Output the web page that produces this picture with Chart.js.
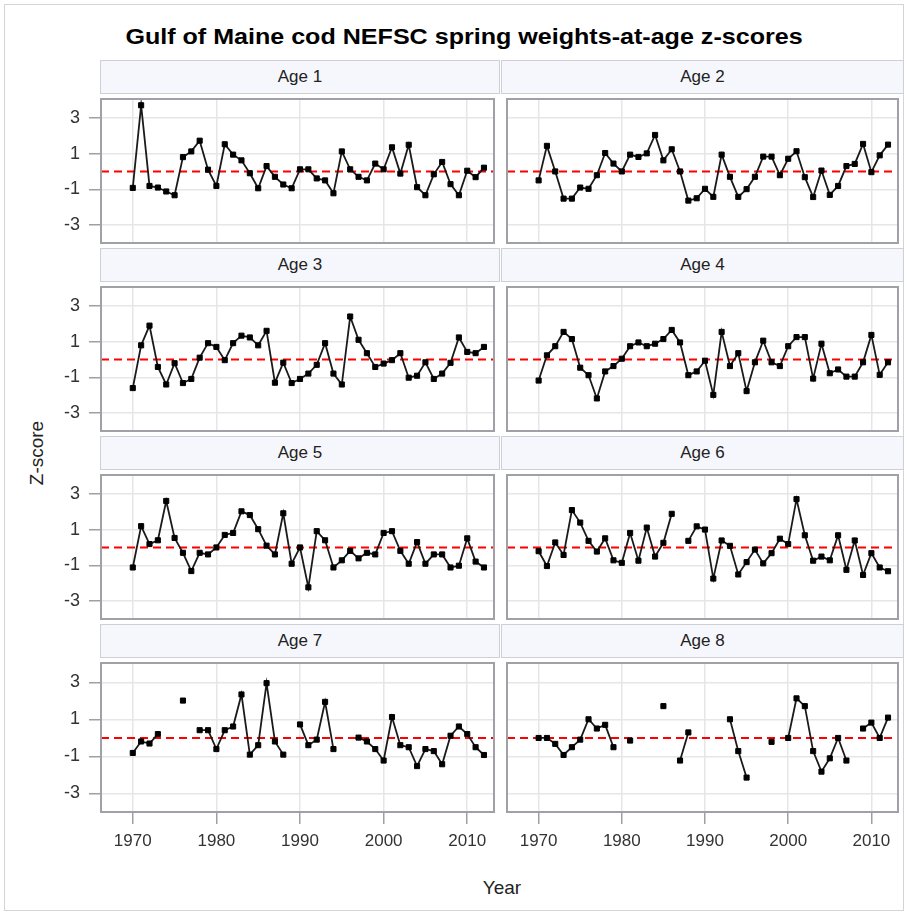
<!DOCTYPE html>
<html>
<head>
<meta charset="utf-8">
<title>Gulf of Maine cod NEFSC spring weights-at-age z-scores</title>
<script src="https://cdn.jsdelivr.net/npm/chart.js@4"></script>
<style>
  body { margin: 0; background: #fff; font-family: "Liberation Sans", Arial, sans-serif; }
  #wrap { position: relative; width: 907px; height: 915px; overflow: hidden; }
  #frame { position: absolute; left: 4px; top: 4px; width: 900px; height: 907px; border: 1px solid #d4d4d4; box-sizing: border-box; }
  #title { position: absolute; left: 464px; top: 24px; transform: translateX(-50%) scaleX(1.14); white-space: nowrap;
           font-weight: bold; font-size: 22px; color: #000; }
  .hdr { position: absolute; height: 34px; background: #f5f7fd; border: 1px solid #cfd0d4; box-sizing: border-box;
         font-size: 17px; color: #222; text-align: center; line-height: 32px; }
  canvas { position: absolute; }
  #xtitle { position: absolute; left: 101px; width: 802px; top: 877px; text-align: center; font-size: 19px; color: #222; }
  #ytitle { position: absolute; left: 37px; top: 453px; transform: translate(-50%, -50%) rotate(-90deg); font-size: 19px; color: #222; white-space: nowrap; }
</style>
</head>
<body>
<div id="wrap">
  <div id="frame"></div>
  <div id="title">Gulf of Maine cod NEFSC spring weights-at-age z-scores</div>
  <div id="xtitle">Year</div>
  <div id="ytitle">Z-score</div>
</div>
<script>
// ---- data -------------------------------------------------------
const years = [];
for (let y = 1970; y <= 2012; y++) years.push(y);

const panelTitles = ['Age 1', 'Age 2', 'Age 3', 'Age 4', 'Age 5', 'Age 6', 'Age 7', 'Age 8'];

const age1 = [-0.92, 3.7, -0.81, -0.9, -1.12, -1.33, 0.8, 1.12, 1.72, 0.1,
              -0.81, 1.52, 0.94, 0.62, -0.1, -0.94, 0.3, -0.3, -0.73, -0.94,
              0.12, 0.12, -0.39, -0.5, -1.22, 1.12, 0.12, -0.3, -0.5, 0.44,
              0.12, 1.35, -0.12, 1.49, -0.88, -1.33, -0.16, 0.53, -0.71, -1.33,
              0.04, -0.32, 0.21];
const age2 = [-0.5, 1.43, 0, -1.52, -1.52, -0.9, -0.97, -0.21, 1.03, 0.44,
              0, 0.94, 0.81, 1.01, 2.04, 0.62, 1.24, 0, -1.63, -1.5,
              -0.97, -1.42, 0.94, -0.3, -1.42, -0.99, -0.3, 0.83, 0.83, -0.21,
              0.71, 1.13, -0.32, -1.43, 0.05, -1.31, -0.81, 0.3, 0.42, 1.54,
              -0.04, 0.9, 1.5];
const age3 = [-1.6, 0.79, 1.89, -0.42, -1.4, -0.21, -1.32, -1.09, 0.1, 0.91,
              0.7, -0.04, 0.91, 1.33, 1.23, 0.79, 1.6, -1.3, -0.18, -1.32,
              -1.09, -0.79, -0.3, 0.91, -0.79, -1.4, 2.4, 1.1, 0.35, -0.42,
              -0.23, -0.04, 0.35, -1.02, -0.91, -0.16, -1.09, -0.79, -0.19, 1.23,
              0.42, 0.35, 0.7];
const age4 = [-1.18, 0.23, 0.74, 1.54, 1.14, -0.46, -0.88, -2.18, -0.67, -0.37,
              0.04, 0.74, 0.95, 0.74, 0.88, 1.14, 1.65, 0.95, -0.88, -0.67,
              -0.07, -1.98, 1.54, -0.37, 0.35, -1.77, -0.16, 1.05, -0.16, -0.37,
              0.74, 1.25, 1.25, -1.07, 0.88, -0.77, -0.56, -0.96, -0.96, -0.16,
              1.37, -0.86, -0.16];
const age5 = [-1.12, 1.19, 0.19, 0.4, 2.6, 0.53, -0.3, -1.32, -0.3, -0.39,
              0, 0.7, 0.81, 2.02, 1.81, 1.02, 0.1, -0.39, 1.91, -0.91,
              0, -2.23, 0.91, 0.4, -1.12, -0.72, -0.19, -0.61, -0.3, -0.39,
              0.81, 0.91, -0.19, -0.91, 0.3, -0.91, -0.39, -0.39, -1.12, -1.02,
              0.51, -0.79, -1.12];
const age6 = [-0.21, -1.04, 0.28, -0.42, 2.09, 1.39, 0.37, -0.23, 0.51, -0.72,
              -0.86, 0.81, -0.74, 1.11, -0.51, 0.26, 1.88, null, 0.37, 1.18,
              1.0, -1.74, 0.39, 0.09, -1.51, -0.82, -0.12, -0.89, -0.32, 0.49,
              0.19, 2.7, 0.68, -0.74, -0.51, -0.72, 0.68, -1.25, 0.39, -1.54,
              -0.32, -1.12, -1.33];
const age7 = [-0.81, -0.19, -0.3, 0.21, null, null, 2.02, null, 0.42, 0.42,
              -0.6, 0.42, 0.62, 2.35, -0.9, -0.39, 2.96, -0.19, -0.9, null,
              0.73, -0.39, -0.09, 1.95, -0.6, null, null, 0.02, -0.19, -0.6,
              -1.22, 1.13, -0.39, -0.5, -1.52, -0.6, -0.71, -1.42, 0.12, 0.62,
              0.21, -0.5, -0.92];
const age8 = [0, 0, -0.32, -0.92, -0.5, -0.09, 1.01, 0.51, 0.71, -0.5,
              null, -0.14, null, null, null, 1.72, null, -1.22, 0.3, null,
              null, null, null, 1.01, -0.71, -2.14, null, null, -0.21, null,
              0, 2.14, 1.72, -0.71, -1.82, -1.1, 0, -1.22, null, 0.51,
              0.83, 0, 1.1];

const series = [age1, age2, age3, age4, age5, age6, age7, age8];

const xTicks = [1970, 1980, 1990, 2000, 2010];
const yTicks = [-3, -1, 1, 3];
const refValue = 0;

// ---- layout -----------------------------------------------------
const X_MIN = 1966.2, X_MAX = 2013.2;
const Y_MIN = -4, Y_MAX = 4.05;
const COL_LEFT = [101, 502];
const COL_RIGHT = [499, 903];
const ROW_TOP = 60, ROW_PITCH = 188, HDR_H = 34, PLOT_H = 154;
const YAX_W = 81, XAX_H = 44;

const FONT = '"Liberation Sans", Arial, sans-serif';

const framePlugin = {
    id: 'frame',
    afterDraw(chart) {
        const { ctx, chartArea: a } = chart;
        ctx.save();
        ctx.strokeStyle = '#a0a1a6';
        ctx.lineWidth = 2;
        ctx.strokeRect(a.left, a.top, a.right - a.left, a.bottom - a.top);
        ctx.restore();
    }
};

const wrap = document.getElementById('wrap');

series.forEach((vals, i) => {
    const col = i % 2;
    const row = Math.floor(i / 2);
    const isLeft = col === 0;
    const isBottom = row === 3;

    // panel header strip
    const hdr = document.createElement('div');
    hdr.className = 'hdr';
    hdr.style.left = (COL_LEFT[col] - 1) + 'px';
    hdr.style.width = (COL_RIGHT[col] - COL_LEFT[col] + 2) + 'px';
    hdr.style.top = (ROW_TOP + row * ROW_PITCH) + 'px';
    hdr.textContent = panelTitles[i];
    wrap.appendChild(hdr);

    const plotTop = ROW_TOP + row * ROW_PITCH + HDR_H;
    const cv = document.createElement('canvas');
    const left = isLeft ? COL_LEFT[col] - YAX_W : COL_LEFT[col];
    const w = COL_RIGHT[col] - left;
    const h = PLOT_H + (isBottom ? XAX_H : 0);
    cv.width = w; cv.height = h;
    cv.style.left = left + 'px';
    cv.style.top = plotTop + 'px';
    wrap.appendChild(cv);

    new Chart(cv, {
        type: 'line',
        data: {
            datasets: [
                {
                    data: years.map((yr, k) => ({ x: yr, y: vals[k] })),
                    borderColor: '#1a1a1a',
                    borderWidth: 1.8,
                    backgroundColor: '#000',
                    pointStyle: 'rect',
                    pointRadius: 3.6,
                    pointBorderWidth: 1,
                    pointBorderColor: '#000',
                    pointBackgroundColor: '#000',
                    spanGaps: false,
                    tension: 0,
                    order: 1
                },
                {
                    data: [{ x: X_MIN, y: refValue }, { x: X_MAX, y: refValue }],
                    borderColor: '#ff0000',
                    borderWidth: 2,
                    borderDash: [8, 5],
                    pointRadius: 0,
                    order: 2
                }
            ]
        },
        options: {
            responsive: false,
            animation: false,
            layout: { padding: 0 },
            plugins: { legend: { display: false }, tooltip: { enabled: false }, title: { display: false } },
            scales: {
                x: {
                    type: 'linear',
                    min: X_MIN, max: X_MAX,
                    afterBuildTicks: s => { s.ticks = xTicks.map(v => ({ value: v })); },
                    afterFit: s => { s.height = isBottom ? XAX_H : 0; s.paddingLeft = 0; s.paddingRight = 0; },
                    border: { display: false },
                    grid: { color: '#e6e6e6', lineWidth: 1.5, tickColor: '#a0a0a0', tickLength: 12, drawTicks: isBottom },
                    ticks: {
                        display: isBottom,
                        autoSkip: false,
                        maxRotation: 0,
                        padding: 7,
                        color: '#333',
                        font: { family: FONT, size: 17 },
                        callback: v => String(v)
                    }
                },
                y: {
                    type: 'linear',
                    min: Y_MIN, max: Y_MAX,
                    afterBuildTicks: s => { s.ticks = yTicks.map(v => ({ value: v })); },
                    afterFit: s => { s.width = isLeft ? YAX_W : 0; s.paddingTop = 0; s.paddingBottom = 0; },
                    border: { display: false },
                    grid: { color: '#e6e6e6', lineWidth: 1.5, tickColor: '#a0a0a0', tickLength: 12, drawTicks: isLeft },
                    ticks: {
                        display: isLeft,
                        padding: 9,
                        color: '#333',
                        font: { family: FONT, size: 18 },
                        callback: v => String(v)
                    }
                }
            }
        },
        plugins: [framePlugin]
    });
});
</script>
</body>
</html>
